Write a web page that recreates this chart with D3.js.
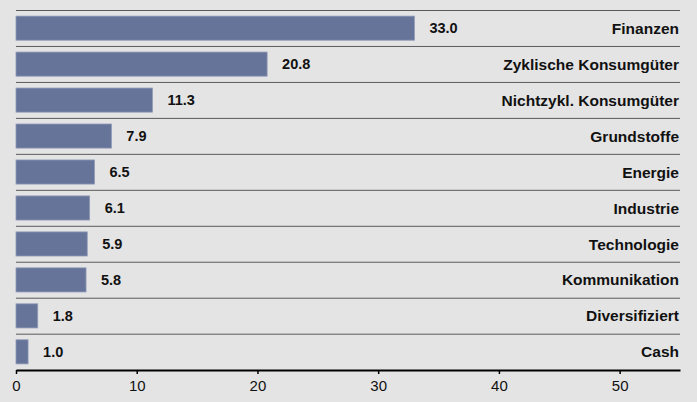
<!DOCTYPE html>
<html>
<head>
<meta charset="utf-8">
<script src="https://cdn.jsdelivr.net/npm/d3@7"></script>
<style>
  body { margin: 0; background: #e4e4e4; }
  svg { display: block; font-family: "Liberation Sans", Arial, sans-serif; }
</style>
</head>
<body>
<div id="chart"></div>
<script>
// Branchen (Anteil in %)
const categories = ["Finanzen", "Zyklische Konsumgüter", "Nichtzykl. Konsumgüter", "Grundstoffe",
  "Energie", "Industrie", "Technologie", "Kommunikation", "Diversifiziert", "Cash"];
const values = [33.0, 20.8, 11.3, 7.9, 6.5, 6.1, 5.9, 5.8, 1.8, 1.0];
const ticks = [0, 10, 20, 30, 40, 50];

const width = 697, height = 402;
const margin = { top: 10, right: 17, bottom: 32, left: 16 };

const svg = d3.select("#chart").append("svg")
  .attr("width", width)
  .attr("height", height);

svg.append("rect").attr("width", width).attr("height", height).attr("fill", "#e4e4e4");

const x = d3.scaleLinear()
  .domain([0, 55])
  .range([margin.left, width - margin.right]);

const y = d3.scaleBand()
  .domain(categories)
  .range([margin.top, height - margin.bottom])
  .paddingInner(0.33)
  .paddingOuter(0.17);

const step = y.step();

// Trennlinien oberhalb jeder Zeile
svg.append("g").selectAll("line")
  .data(categories)
  .join("line")
  .attr("x1", x(0))
  .attr("x2", x(55))
  .attr("y1", (d, i) => margin.top + i * step + 0.5)
  .attr("y2", (d, i) => margin.top + i * step + 0.5)
  .attr("stroke", "#5a5a5a")
  .attr("stroke-width", 1);

// Balken
svg.append("g").selectAll("rect")
  .data(values)
  .join("rect")
  .attr("x", x(0))
  .attr("y", (d, i) => y(categories[i]))
  .attr("width", d => x(d) - x(0))
  .attr("height", y.bandwidth())
  .attr("fill", "#66749a")
  .attr("stroke", "#8f9ab6")
  .attr("stroke-width", 0.8);

// Werte
svg.append("g").selectAll("text")
  .data(values)
  .join("text")
  .attr("x", d => x(d) + 15)
  .attr("y", (d, i) => y(categories[i]) + y.bandwidth() / 2)
  .attr("dy", "0.36em")
  .attr("font-size", 14.5)
  .attr("font-weight", "bold")
  .attr("fill", "#111")
  .text(d => d.toFixed(1));

// Kategorien rechtsbündig
svg.append("g").selectAll("text")
  .data(categories)
  .join("text")
  .attr("x", width - margin.right - 1)
  .attr("y", d => y(d) + y.bandwidth() / 2)
  .attr("dy", "0.36em")
  .attr("text-anchor", "end")
  .attr("font-size", 15.5)
  .attr("font-weight", "bold")
  .attr("fill", "#111")
  .text(d => d);

// x-Achse
const axis = svg.append("g")
  .attr("transform", "translate(0," + (height - margin.bottom) + ")")
  .call(d3.axisBottom(x).tickValues(ticks).tickSize(4).tickSizeOuter(0).tickPadding(6));

axis.select(".domain").attr("stroke", "#000").attr("stroke-width", 2);
axis.selectAll(".tick line").attr("stroke", "#000").attr("stroke-width", 1.5);
axis.selectAll(".tick text")
  .attr("font-size", 15)
  .attr("font-family", "Liberation Sans, Arial, sans-serif")
  .attr("fill", "#111");
</script>
</body>
</html>
